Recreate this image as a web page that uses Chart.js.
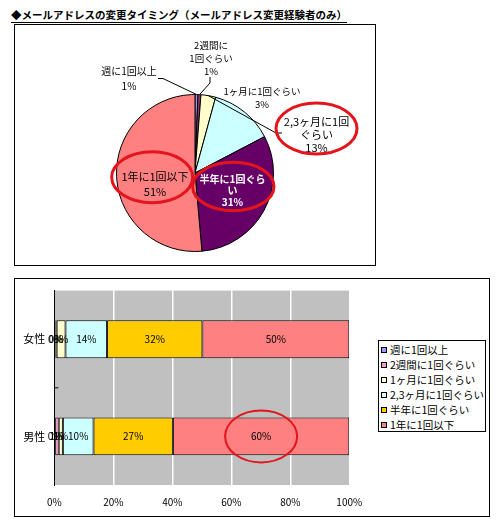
<!DOCTYPE html>
<html>
<head>
<meta charset="utf-8">
<script src="https://cdn.jsdelivr.net/npm/chart.js@4.4.1/dist/chart.umd.min.js"></script>
<style>
  html, body { margin:0; padding:0; background:#fff; }
  body { position:relative; width:500px; height:530px; overflow:hidden; font-family:"Noto Sans CJK JP","Noto Sans",sans-serif; }
  #title { position:absolute; left:11px; top:8px; font-size:10.5px; font-weight:bold; line-height:14px; border-bottom:1.5px solid #000; white-space:nowrap; color:#000; }
  .box { position:absolute; border:1px solid #000; box-sizing:border-box; }
  #pieBox { left:14px; top:24px; width:362px; height:242px; }
  #barBox { left:14px; top:278px; width:476px; height:239px; }
  #pieCanvas { position:absolute; left:15px; top:25px; }
  #barCanvas { position:absolute; left:15px; top:279px; }
  #legend { position:absolute; left:378px; top:340px; width:108px; height:92px; border:1px solid #000; box-sizing:border-box; padding-top:1px; background:#fff; }
  #legend .item { display:flex; align-items:center; height:15px; font-size:10.5px; line-height:15px; white-space:nowrap; color:#000; }
  #legend .sw { width:6px; height:6px; border:1px solid #000; box-sizing:border-box; margin-left:2px; margin-right:3px; flex:none; }
</style>
</head>
<body>
<div id="title">◆メールアドレスの変更タイミング（メールアドレス変更経験者のみ）</div>
<div class="box" id="pieBox"></div>
<div class="box" id="barBox"></div>
<canvas id="pieCanvas" width="360" height="240"></canvas>
<canvas id="barCanvas" width="474" height="237"></canvas>
<div id="legend"></div>
<script>
const FONT = '"Noto Sans CJK JP", "Noto Sans", sans-serif';

// ---------- data ----------
const pieCategories = ['週に1回以上', '2週間に1回ぐらい', '1ヶ月に1回ぐらい', '2,3ヶ月に1回ぐらい', '半年に1回ぐらい', '1年に1回以下'];
const pieValues = [0.6, 0.6, 3, 13, 31, 51];
const pieColors = ['#9999FF', '#993366', '#FFFFCC', '#CCFFFF', '#660066', '#FF8080'];

const barCategories = ['女性', '男性'];
const seriesNames = ['週に1回以上', '2週間に1回ぐらい', '1ヶ月に1回ぐらい', '2,3ヶ月に1回ぐらい', '半年に1回ぐらい', '1年に1回以下'];
const weeklyValues    = [0.4, 0.3];
const biweeklyValues  = [0.4, 1.2];
const monthlyValues   = [3.0, 1.4];
const quarterlyValues = [14.1, 10.4];
const halfYearValues  = [32.3, 26.9];
const yearlyValues    = [49.8, 59.8];
const barColors = ['#9999FF', '#FF99CC', '#FFFFCC', '#CCFFFF', '#FFCC00', '#FF8080'];
const xTickValues = [0, 20, 40, 60, 80, 100];
const xTickLabels = ['0%', '20%', '40%', '60%', '80%', '100%'];

// ---------- pie labels plugin ----------
const pieLabelPlugin = {
  id: 'pieLabels',
  afterDraw(chart, args, opts) {
    const ctx = chart.ctx;
    const meta = chart.getDatasetMeta(0);
    const cx = meta.data[0].x, cy = meta.data[0].y;
    const values = chart.data.datasets[0].data;
    ctx.save();
    opts.items.forEach((it, i) => {
      const arc = meta.data[i];
      const name = chart.data.labels[i];
      const lines = it.brk ? [name.slice(0, it.brk), name.slice(it.brk)] : [name];
      lines.push(Math.round(values[i]) + '%');
      if (it.lead) {
        const p = arc.getProps(['startAngle', 'endAngle', 'outerRadius'], true);
        const mid = (p.startAngle + p.endAngle) / 2;
        ctx.beginPath();
        ctx.strokeStyle = '#000';
        ctx.lineWidth = 1;
        ctx.moveTo(cx + it.lead[0][0], cy + it.lead[0][1]);
        for (let k = 1; k < it.lead.length; k++) ctx.lineTo(cx + it.lead[k][0], cy + it.lead[k][1]);
        ctx.lineTo(cx + Math.cos(mid) * p.outerRadius, cy + Math.sin(mid) * p.outerRadius);
        ctx.stroke();
      }
      ctx.font = (it.bold ? 'bold ' : '') + it.size + 'px ' + FONT;
      ctx.fillStyle = it.color || '#000';
      ctx.textAlign = 'center';
      ctx.textBaseline = 'middle';
      const y0 = cy + it.dy - (lines.length - 1) * it.lh / 2;
      lines.forEach((t, k) => ctx.fillText(t, cx + it.dx, y0 + k * it.lh));
      if (it.ring) {
        ctx.beginPath();
        ctx.strokeStyle = opts.ringColor;
        ctx.lineWidth = opts.ringWidth;
        ctx.ellipse(cx + it.ring.dx, cy + it.ring.dy, it.ring.rx, it.ring.ry, 0, 0, Math.PI * 2);
        ctx.stroke();
      }
    });
    ctx.restore();
  }
};

new Chart(document.getElementById('pieCanvas'), {
  type: 'pie',
  data: {
    labels: pieCategories,
    datasets: [{ data: pieValues, backgroundColor: pieColors, borderColor: '#000', borderWidth: 1 }]
  },
  options: {
    responsive: false,
    animation: false,
    layout: { padding: { left: 101, right: 101, top: 69, bottom: 13 } },
    plugins: {
      legend: { display: false },
      tooltip: { enabled: false },
      pieLabels: {
        ringColor: '#E3141B',
        ringWidth: 3,
        items: [
          { dx: -66, dy: -94, size: 10, lh: 15, lead: [[-37, -94.5], [-32, -94.5]] },
          { dx: 16, dy: -114.5, size: 9.5, lh: 13, brk: 4, lead: [[15, -96], [15, -90]] },
          { dx: 67, dy: -75, size: 9.5, lh: 13.4, lead: [[87, -40], [81, -40]] },
          { dx: 121.5, dy: -38, size: 11, lh: 13, brk: 8, ring: { dx: 121.5, dy: -44.5, rx: 40.5, ry: 25.5 } },
          { dx: 37.5, dy: 17.7, size: 10, lh: 11.7, brk: 7, bold: true, color: '#fff', ring: { dx: 38.3, dy: 13.5, rx: 40.7, ry: 24.2 } },
          { dx: -40, dy: 11, size: 11, lh: 15, ring: { dx: -42.8, dy: 4.2, rx: 40.5, ry: 25.5 } }
        ]
      }
    }
  },
  plugins: [pieLabelPlugin]
});

// ---------- bar chart ----------
const plotBgPlugin = {
  id: 'plotBg',
  beforeDraw(chart, args, opts) {
    const a = chart.chartArea, ctx = chart.ctx;
    ctx.save();
    ctx.fillStyle = opts.color;
    ctx.fillRect(a.left, a.top, a.right - a.left, a.bottom - a.top);
    ctx.restore();
  },
  afterDraw(chart) {
    // inner tick mark between the two categories
    const y = chart.scales.y, ctx = chart.ctx;
    const my = (y.getPixelForTick(0) + y.getPixelForTick(1)) / 2;
    ctx.save();
    ctx.strokeStyle = '#000';
    ctx.lineWidth = 1;
    ctx.beginPath();
    ctx.moveTo(chart.chartArea.left, my);
    ctx.lineTo(chart.chartArea.left + 4, my);
    ctx.stroke();
    ctx.restore();
  }
};

const barLabelPlugin = {
  id: 'barLabels',
  afterDatasetsDraw(chart, args, opts) {
    const ctx = chart.ctx;
    ctx.save();
    ctx.font = opts.size + 'px ' + FONT;
    ctx.fillStyle = '#000';
    ctx.textAlign = 'center';
    ctx.textBaseline = 'middle';
    chart.data.datasets.forEach((ds, di) => {
      const meta = chart.getDatasetMeta(di);
      meta.data.forEach((bar, bi) => {
        const p = bar.getProps(['x', 'y', 'base'], true);
        const lx = (p.x + p.base) / 2;
        ctx.fillText(Math.round(ds.data[bi]) + '%', lx, p.y);
        const r = opts.ring;
        if (r && r.dataset === di && r.index === bi) {
          ctx.save();
          ctx.strokeStyle = r.color;
          ctx.lineWidth = r.width;
          ctx.beginPath();
          ctx.ellipse(lx, p.y, r.rx, r.ry, 0, 0, Math.PI * 2);
          ctx.stroke();
          ctx.restore();
        }
      });
    });
    ctx.restore();
  }
};

const seriesValues = [weeklyValues, biweeklyValues, monthlyValues, quarterlyValues, halfYearValues, yearlyValues];

new Chart(document.getElementById('barCanvas'), {
  type: 'bar',
  data: {
    labels: barCategories,
    datasets: seriesNames.map((n, i) => ({
      label: n,
      data: seriesValues[i],
      backgroundColor: barColors[i],
      borderColor: '#000',
      borderWidth: 1,
      borderSkipped: false,
      barPercentage: 0.39,
      categoryPercentage: 1
    }))
  },
  options: {
    indexAxis: 'y',
    responsive: false,
    animation: false,
    layout: { padding: { left: 0, right: 139.7, top: 6, bottom: 0 } },
    scales: {
      x: {
        stacked: true,
        min: 0,
        max: 100,
        afterBuildTicks(s) { s.ticks = xTickValues.map(v => ({ value: v })); },
        grid: {
          color: (c) => (c.tick && c.tick.value === 0) ? 'rgba(0,0,0,0)' : '#fff',
          lineWidth: 1.5,
          drawTicks: false
        },
        border: { display: false },
        ticks: {
          callback: (v) => xTickLabels[xTickValues.indexOf(v)],
          font: { family: FONT, size: 10 },
          color: '#000',
          padding: 11,
          maxRotation: 0
        },
        afterFit(s) { s.height = 31; }
      },
      y: {
        stacked: true,
        grid: { display: true, drawOnChartArea: false, drawTicks: true, tickLength: 4, tickColor: 'rgba(0,0,0,0)' },
        border: { display: true, color: '#000', width: 1 },
        ticks: { font: { family: FONT, size: 11 }, color: '#000', padding: 5 },
        afterFit(s) { s.width = 39.3; }
      }
    },
    plugins: {
      legend: { display: false },
      tooltip: { enabled: false },
      plotBg: { color: '#C0C0C0' },
      barLabels: { size: 10, ring: { dataset: 5, index: 1, rx: 36, ry: 26, color: '#E3141B', width: 2 } }
    }
  },
  plugins: [plotBgPlugin, barLabelPlugin]
});

// ---------- HTML legend built from the series ----------
const legendEl = document.getElementById('legend');
seriesNames.forEach((n, i) => {
  const row = document.createElement('div');
  row.className = 'item';
  const sw = document.createElement('span');
  sw.className = 'sw';
  sw.style.background = barColors[i];
  const tx = document.createElement('span');
  tx.textContent = n;
  row.appendChild(sw);
  row.appendChild(tx);
  legendEl.appendChild(row);
});
</script>
</body>
</html>
